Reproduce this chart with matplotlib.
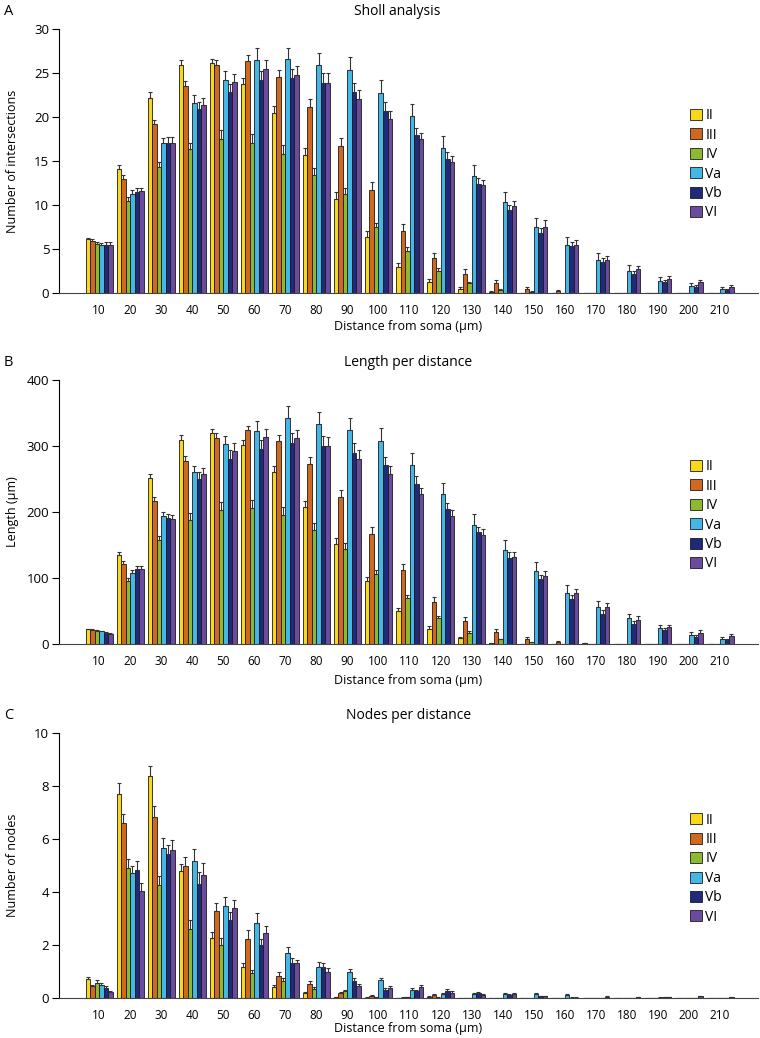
import numpy as np
import matplotlib
matplotlib.use("Agg")
import matplotlib.pyplot as plt

plt.rcParams['font.family'] = ['Open Sans', 'DejaVu Sans']

distances = [10, 20, 30, 40, 50, 60, 70, 80, 90, 100, 110,
             120, 130, 140, 150, 160, 170, 180, 190, 200, 210]
layers = ['II', 'III', 'IV', 'Va', 'Vb', 'VI']
colors = ['#F8D71C', '#D0691F', '#8DB92E', '#45B7E6', '#1F2B7A', '#6A4B9E']

# one row per distance bin, one column per layer
sholl_mean = [
    [6.1, 5.95, 5.6, 5.45, 5.5, 5.5],
    [14.1, 13.0, 10.5, 11.3, 11.5, 11.55],
    [22.2, 19.2, 14.3, 17.0, 17.1, 17.1],
    [25.9, 23.5, 16.4, 21.6, 20.9, 21.4],
    [26.1, 25.9, 17.5, 24.2, 22.8, 24.0],
    [23.8, 26.4, 17.1, 26.5, 24.2, 25.5],
    [20.45, 24.5, 15.8, 26.6, 24.4, 24.8],
    [15.7, 21.1, 13.4, 25.9, 23.9, 23.9],
    [10.7, 16.7, 11.2, 25.3, 22.8, 22.1],
    [6.4, 11.7, 7.5, 22.7, 20.7, 19.8],
    [3.0, 7.1, 4.8, 20.1, 18.0, 17.5],
    [1.3, 4.0, 2.5, 16.5, 15.2, 14.9],
    [0.45, 2.2, 1.1, 13.3, 12.4, 12.3],
    [0.1, 1.1, 0.4, 10.3, 9.4, 9.9],
    [0.0, 0.5, 0.15, 7.5, 6.8, 7.5],
    [0.0, 0.25, 0.0, 5.45, 5.3, 5.45],
    [0.05, 0.0, 0.0, 3.7, 3.55, 3.7],
    [0.0, 0.0, 0.0, 2.5, 2.15, 2.7],
    [0.0, 0.0, 0.0, 1.4, 1.2, 1.65],
    [0.0, 0.0, 0.0, 0.83, 0.7, 1.2],
    [0.0, 0.0, 0.0, 0.45, 0.35, 0.7],
]
sholl_err = [
    [0.2, 0.2, 0.2, 0.2, 0.3, 0.3],
    [0.5, 0.4, 0.4, 0.4, 0.4, 0.4],
    [0.6, 0.5, 0.6, 0.6, 0.6, 0.6],
    [0.6, 0.6, 0.7, 0.9, 0.8, 0.8],
    [0.5, 0.6, 1.0, 1.0, 0.9, 0.9],
    [0.6, 0.6, 1.0, 1.3, 1.0, 1.0],
    [0.8, 0.8, 1.0, 1.3, 1.1, 1.0],
    [0.8, 0.9, 0.8, 1.4, 1.1, 1.1],
    [0.8, 0.9, 0.7, 1.5, 1.1, 1.0],
    [0.6, 0.9, 0.5, 1.5, 1.0, 0.9],
    [0.4, 0.7, 0.4, 1.4, 0.8, 0.7],
    [0.3, 0.6, 0.3, 1.4, 0.8, 0.7],
    [0.2, 0.5, 0.2, 1.3, 0.7, 0.6],
    [0.1, 0.4, 0.1, 1.2, 0.6, 0.6],
    [0.0, 0.2, 0.1, 1.0, 0.6, 0.8],
    [0.0, 0.1, 0.0, 0.9, 0.5, 0.6],
    [0.0, 0.0, 0.0, 0.8, 0.4, 0.5],
    [0.0, 0.0, 0.0, 0.7, 0.3, 0.4],
    [0.0, 0.0, 0.0, 0.4, 0.3, 0.3],
    [0.0, 0.0, 0.0, 0.3, 0.2, 0.3],
    [0.0, 0.0, 0.0, 0.2, 0.1, 0.2],
]

length_mean = [
    [22, 21, 20, 19, 17, 15],
    [135, 121, 96, 108, 113, 114],
    [251, 217, 158, 194, 191, 190],
    [309, 278, 188, 260, 250, 257],
    [319, 312, 203, 303, 281, 293],
    [301, 324, 206, 323, 296, 313],
    [260, 307, 195, 343, 304, 312],
    [208, 272, 173, 333, 300, 300],
    [151, 222, 144, 324, 290, 281],
    [95, 167, 106, 308, 271, 257],
    [50, 112, 69, 271, 242, 228],
    [23, 64, 40, 227, 204, 194],
    [9, 35, 17, 181, 169, 165],
    [1.5, 18, 7, 143, 131, 132],
    [0.5, 8, 2.5, 111, 98, 103],
    [0, 3.5, 0, 78, 68, 78],
    [1, 0, 0, 56, 46, 56],
    [0, 0, 0, 39, 31, 37],
    [0, 0, 0, 24, 21, 25],
    [0, 0, 0, 14, 10, 17],
    [0, 0, 0, 7, 6, 12],
]
length_err = [
    [1, 1, 1, 1, 1, 1],
    [5, 5, 4, 4, 5, 4],
    [7, 6, 6, 6, 6, 6],
    [8, 7, 10, 10, 10, 10],
    [7, 7, 12, 12, 13, 12],
    [8, 7, 12, 15, 13, 13],
    [9, 10, 12, 17, 15, 13],
    [9, 11, 10, 18, 15, 14],
    [9, 11, 9, 18, 15, 13],
    [7, 11, 6, 19, 13, 12],
    [5, 9, 5, 18, 12, 9],
    [4, 7, 3, 17, 10, 9],
    [2, 6, 2, 16, 9, 9],
    [0.5, 5, 1, 15, 8, 8],
    [0, 3, 0.5, 13, 7, 8],
    [0, 1, 0, 11, 6, 6],
    [0, 0, 0, 9, 5, 6],
    [0, 0, 0, 7, 4, 5],
    [0, 0, 0, 5, 3, 4],
    [0, 0, 0, 4, 3, 4],
    [0, 0, 0, 3, 2, 3],
]

nodes_mean = [
    [0.73, 0.44, 0.57, 0.50, 0.38, 0.23],
    [7.7, 6.6, 4.9, 4.72, 4.85, 4.05],
    [8.39, 6.85, 4.26, 5.67, 5.42, 5.57],
    [4.78, 5.0, 2.61, 5.17, 4.29, 4.65],
    [2.26, 3.28, 2.0, 3.48, 2.95, 3.4],
    [1.19, 2.23, 0.94, 2.83, 2.01, 2.45],
    [0.41, 0.84, 0.65, 1.7, 1.32, 1.32],
    [0.19, 0.53, 0.34, 1.16, 1.16, 0.99],
    [0.03, 0.19, 0.25, 0.97, 0.66, 0.46],
    [0.02, 0.07, 0.03, 0.67, 0.31, 0.38],
    [0.01, 0.02, 0.03, 0.31, 0.25, 0.4],
    [0.05, 0.12, 0.02, 0.15, 0.28, 0.2],
    [0.0, 0.01, 0.0, 0.16, 0.2, 0.12],
    [0.0, 0.0, 0.0, 0.15, 0.13, 0.15],
    [0.0, 0.0, 0.0, 0.14, 0.07, 0.07],
    [0.0, 0.0, 0.0, 0.12, 0.02, 0.02],
    [0.0, 0.0, 0.0, 0.0, 0.0, 0.04],
    [0.0, 0.0, 0.0, 0.0, 0.0, 0.03],
    [0.0, 0.0, 0.0, 0.02, 0.03, 0.03],
    [0.0, 0.0, 0.0, 0.0, 0.0, 0.06],
    [0.0, 0.0, 0.0, 0.0, 0.0, 0.04],
]
nodes_err = [
    [0.08, 0.06, 0.1, 0.06, 0.06, 0.05],
    [0.4, 0.35, 0.35, 0.25, 0.34, 0.3],
    [0.35, 0.38, 0.33, 0.36, 0.37, 0.38],
    [0.27, 0.32, 0.32, 0.45, 0.45, 0.45],
    [0.23, 0.3, 0.25, 0.35, 0.3, 0.3],
    [0.15, 0.32, 0.12, 0.37, 0.2, 0.28],
    [0.08, 0.15, 0.1, 0.22, 0.18, 0.12],
    [0.05, 0.1, 0.08, 0.2, 0.18, 0.15],
    [0.02, 0.05, 0.05, 0.12, 0.1, 0.06],
    [0.01, 0.03, 0.02, 0.08, 0.06, 0.06],
    [0.0, 0.02, 0.02, 0.08, 0.05, 0.08],
    [0.02, 0.03, 0.01, 0.05, 0.07, 0.05],
    [0.0, 0.01, 0.0, 0.04, 0.04, 0.03],
    [0.0, 0.0, 0.0, 0.04, 0.03, 0.04],
    [0.0, 0.0, 0.0, 0.04, 0.02, 0.02],
    [0.0, 0.0, 0.0, 0.05, 0.01, 0.01],
    [0.0, 0.0, 0.0, 0.0, 0.0, 0.02],
    [0.0, 0.0, 0.0, 0.0, 0.0, 0.01],
    [0.0, 0.0, 0.0, 0.01, 0.01, 0.01],
    [0.0, 0.0, 0.0, 0.0, 0.0, 0.02],
    [0.0, 0.0, 0.0, 0.0, 0.0, 0.01],
]

panels = [
    ('A', 'Sholl analysis', 'Number of intersections', sholl_mean, sholl_err,
     30, 5, [0.0776, 0.7177, 0.9197, 0.2543], 0.484, -0.104),
    ('B', 'Length per distance', u'Length (\u03bcm)', length_mean, length_err,
     400, 100, [0.0776, 0.3796, 0.9197, 0.2543], 0.5, -0.112),
    ('C', 'Nodes per distance', 'Number of nodes', nodes_mean, nodes_err,
     10, 2, [0.0776, 0.0385, 0.9197, 0.2553], 0.5, -0.09),
]

fig = plt.figure(figsize=(7.6, 10.38), dpi=100)

x = np.arange(len(distances))
bar_w = 0.145

for letter, title, ylabel, mean, err, ymax, ystep, rect, title_x, xlab_y in panels:
    ax = fig.add_axes(rect)
    mean = np.array(mean)
    err = np.array(err)
    for j, layer in enumerate(layers):
        offs = (j - 2.5) * bar_w
        ax.bar(x + offs, mean[:, j], width=bar_w, color=colors[j],
               edgecolor='#1a1a1a', linewidth=0.6, label=layer,
               yerr=[np.zeros(len(x)), err[:, j]], capsize=1.5,
               error_kw=dict(elinewidth=0.8, ecolor='#333333', capthick=0.8))

    ax.set_xlim(-1.29, 21.22)
    ax.set_ylim(0, ymax)
    ax.set_yticks(np.arange(0, ymax + ystep / 2, ystep))
    ax.set_xticks(x)
    ax.set_xticklabels([str(d) for d in distances])
    ax.tick_params(axis='x', length=0, pad=8, labelsize=8.5)
    ax.tick_params(axis='y', length=5, width=0.8, pad=2, labelsize=9.5)
    for s in ['top', 'right']:
        ax.spines[s].set_visible(False)
    ax.spines['left'].set_linewidth(0.8)
    ax.spines['bottom'].set_linewidth(0.8)
    ax.spines['bottom'].set_color('#444444')

    ax.set_ylabel(ylabel, fontsize=9)
    ax.yaxis.set_label_coords(-0.057, 0.5)
    ax.set_xlabel(u'Distance from soma (\u03bcm)', fontsize=9)
    ax.xaxis.set_label_coords(0.5, xlab_y)

    ax.text(title_x, 1.068, title, transform=ax.transAxes, ha='center',
            va='center', fontsize=10)
    ax.text(-0.079, 1.068, letter, transform=ax.transAxes, ha='left',
            va='center', fontsize=10.5)

    ax.legend(loc='upper left', bbox_to_anchor=(0.903, 0.70), frameon=False,
              fontsize=10, handlelength=0.85, handleheight=0.85,
              handletextpad=0.25, labelspacing=0.32, borderpad=0,
              borderaxespad=0)

fig.savefig('out.png', dpi=100)
